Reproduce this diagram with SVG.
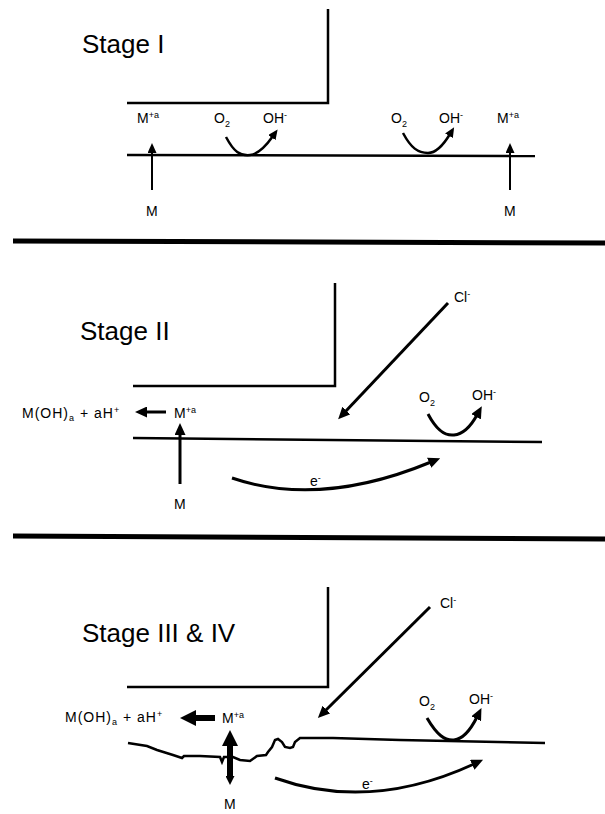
<svg xmlns="http://www.w3.org/2000/svg" width="605" height="814" viewBox="0 0 605 814">
<style>
  .title { font-family: "Liberation Sans", Arial, sans-serif; font-size: 26px; fill: #000; }
  .lbl { font-family: "Liberation Sans", Arial, sans-serif; font-size: 14px; fill: #000; }
  .prod { letter-spacing: 1px; }
  .sup, .sub { font-size: 9px; }
  .line { fill: none; stroke: #000; stroke-width: 2.5; }
  .thin { fill: none; stroke: #000; stroke-width: 2; }
  .med { fill: none; stroke: #000; stroke-width: 3; }
  .thick { fill: none; stroke: #000; stroke-width: 6; }
  .divider { stroke: #000; stroke-width: 5; }
</style>
<defs>
  <marker id="ah-s" markerUnits="userSpaceOnUse" markerWidth="10" markerHeight="9" refX="2" refY="4.5" orient="auto">
    <path d="M0,0 L10,4.5 L0,9 z" fill="#000"/>
  </marker>
  <marker id="ah-m" markerUnits="userSpaceOnUse" markerWidth="12" markerHeight="11" refX="2" refY="5.5" orient="auto">
    <path d="M0,0 L12,5.5 L0,11 z" fill="#000"/>
  </marker>
  <marker id="ah-l" markerUnits="userSpaceOnUse" markerWidth="16" markerHeight="16" refX="3" refY="8" orient="auto">
    <path d="M0,0 L16,8 L0,16 z" fill="#000"/>
  </marker>
  <marker id="ah-tail" markerUnits="userSpaceOnUse" markerWidth="9" markerHeight="9" refX="2" refY="4.5" orient="auto-start-reverse">
    <path d="M0,0 L9,4.5 L0,9 z" fill="#000"/>
  </marker>
</defs>

<!-- Dividers -->
<g id="dividers">
  <line class="divider" x1="13" y1="241" x2="605" y2="243"/>
  <line class="divider" x1="13" y1="536" x2="605" y2="539"/>
</g>

<!-- Stage I -->
<g id="stage1">
  <text class="title" x="82" y="53">Stage I</text>
  <path class="line" d="M328,9 L328,103 L127,103"/>
  <path class="line" d="M127,155 L535,156"/>
  <g id="s1-m1">
    <text class="lbl" x="137" y="123">M<tspan class="sup" dy="-5">+a</tspan></text>
    <text class="lbl" x="146" y="216">M</text>
  </g>
  <g id="s1-o2a">
    <text class="lbl" x="214" y="123">O<tspan class="sub" dy="4">2</tspan></text>
    <text class="lbl" x="263" y="123">OH<tspan class="sup" dy="-5">-</tspan></text>
  </g>
  <g id="s1-o2b">
    <text class="lbl" x="391" y="123">O<tspan class="sub" dy="4">2</tspan></text>
    <text class="lbl" x="439" y="123">OH<tspan class="sup" dy="-5">-</tspan></text>
  </g>
  <g id="s1-m2">
    <text class="lbl" x="497" y="123">M<tspan class="sup" dy="-5">+a</tspan></text>
    <text class="lbl" x="504" y="216">M</text>
  </g>
</g>

<!-- Stage II -->
<g id="stage2">
  <text class="title" x="80" y="340">Stage II</text>
  <path class="line" d="M335,283 L335,386 L133,386"/>
  <path class="line" d="M133,438 L542,442"/>
  <g id="s2-products">
    <text class="lbl prod" x="22" y="418">M(OH)<tspan class="sub" dy="3">a</tspan><tspan dy="-3"> + aH</tspan><tspan class="sup" dy="-5">+</tspan></text>
  </g>
  <g id="s2-m">
    <text class="lbl" x="174" y="418">M<tspan class="sup" dy="-5">+a</tspan></text>
    <text class="lbl" x="174" y="509">M</text>
  </g>
  <g id="s2-cl">
    <text class="lbl" x="454" y="302">Cl<tspan class="sup" dy="-5">-</tspan></text>
  </g>
  <g id="s2-o2">
    <text class="lbl" x="419" y="402">O<tspan class="sub" dy="4">2</tspan></text>
    <text class="lbl" x="472" y="400">OH<tspan class="sup" dy="-5">-</tspan></text>
  </g>
  <g id="s2-e">
    <text class="lbl" x="310" y="486">e<tspan class="sup" dy="-5">-</tspan></text>
  </g>
</g>

<!-- Stage III & IV -->
<g id="stage3">
  <text class="title" x="82" y="642">Stage III &amp; IV</text>
  <path class="line" d="M328,587 L328,687 L127,687"/>
  <path class="line" d="M128,743 L147,746 L157,750 L173,755 L182,758 L184,756 L200,756 L220,757 L222,762 L224,757 L233,757 L240,760 L250,761 L257,756 L266,755 L268,752 L272,747 L275,740 L278,739 L282,742 L285,747 L290,748 L293,747 L295,742 L300,738 L333,738 L400,740 L545,743"/>
  <g id="s3-products">
    <text class="lbl prod" x="65" y="722">M(OH)<tspan class="sub" dy="3">a</tspan><tspan dy="-3"> + aH</tspan><tspan class="sup" dy="-5">+</tspan></text>
  </g>
  <g id="s3-m">
    <text class="lbl" x="222" y="723">M<tspan class="sup" dy="-5">+a</tspan></text>
    <text class="lbl" x="224" y="809">M</text>
  </g>
  <g id="s3-cl">
    <text class="lbl" x="440" y="608">Cl<tspan class="sup" dy="-5">-</tspan></text>
  </g>
  <g id="s3-o2">
    <text class="lbl" x="419" y="706">O<tspan class="sub" dy="4">2</tspan></text>
    <text class="lbl" x="469" y="704">OH<tspan class="sup" dy="-5">-</tspan></text>
  </g>
  <g id="s3-e">
    <text class="lbl" x="362" y="789">e<tspan class="sup" dy="-5">-</tspan></text>
  </g>
</g>

<!-- Connectors -->
<g id="connectors">
  <!-- Stage I -->
  <line class="thin" x1="152" y1="190" x2="152" y2="151" marker-end="url(#ah-s)"/>
  <line class="thin" x1="510" y1="190" x2="510" y2="151" marker-end="url(#ah-s)"/>
  <path class="line" d="M226,137 C234,152 240,156 250,155 C259,154 266,146 273,136" marker-end="url(#ah-s)"/>
  <path class="line" d="M403,133 C411,148 418,153 428,153 C437,153 444,144 450,134" marker-end="url(#ah-s)"/>
  <!-- Stage II -->
  <line class="med" x1="166" y1="412" x2="145" y2="412" marker-end="url(#ah-m)"/>
  <line class="med" x1="180" y1="484" x2="180" y2="433" marker-end="url(#ah-m)"/>
  <line class="med" x1="448" y1="303" x2="345" y2="412" marker-end="url(#ah-m)"/>
  <path class="med" d="M428,414 C437,431 445,436 454,435 C464,434 471,426 477,415" marker-end="url(#ah-m)"/>
  <path class="med" d="M232,478 Q320,508 431,462" marker-end="url(#ah-m)"/>
  <!-- Stage III & IV -->
  <line class="thick" x1="215" y1="718" x2="193" y2="718" marker-end="url(#ah-l)"/>
  <line class="thick" x1="230" y1="778" x2="230" y2="743" marker-start="url(#ah-tail)" marker-end="url(#ah-l)"/>
  <line class="med" x1="430" y1="607" x2="325" y2="711" stroke-width="3.5" marker-end="url(#ah-m)"/>
  <path class="med" d="M427,718 C437,735 445,741 454,740 C464,739 471,729 477,717" marker-end="url(#ah-m)"/>
  <path class="med" d="M275,778 Q370,812 474,764" stroke-width="3.5" marker-end="url(#ah-m)"/>
</g>
</svg>
